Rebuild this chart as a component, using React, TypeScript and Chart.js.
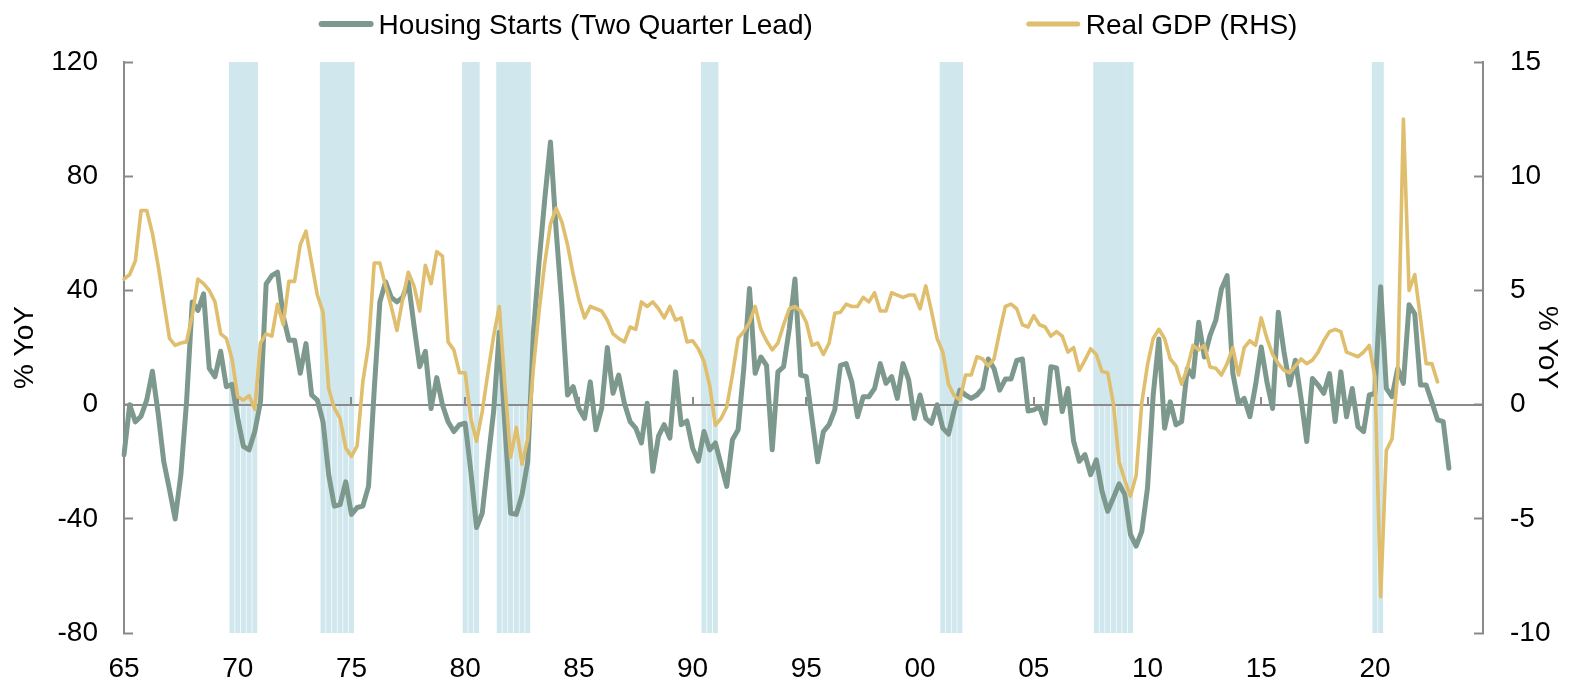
import { useEffect, useRef } from 'react';
import { Chart, registerables } from 'chart.js';

Chart.register(...registerables);

// ---------- data ----------
const FIRST_YEAR = 1965;
const LAST_YEAR = 2024;

// Housing starts, % YoY, plotted with a two-quarter lead (from 1965Q1)
const HOUSING_STARTS = [
  -17.5, 0, -6, -4, 1.7, 11.7, -3, -20, -29.7, -40,
  -24.5, 1, 36, 33, 38.8, 12.7, 9.8, 18.7, 6.3, 7.1,
  -4.7, -14.6, -15.8, -9.4, 1, 42.3, 45.2, 46.4, 31, 22.6,
  22.6, 11, 21.4, 3.4, 1.6, -6, -24.5, -35.5, -35, -27,
  -38.4, -36, -35.5, -28.6, 5, 36, 43, 37.6, 36, 37.6,
  43, 27.8, 13.3, 18.7, -1.3, 9.5, 0, -6, -9.4, -7,
  -6.5, -23.4, -43, -38, -20, -2.4, 25.4, -8, -38, -38.4,
  -31.5, -20, 25.4, 50, 72, 92, 61, 35, 3.4, 6.3,
  -1.3, -4.8, 8, -8.8, -1.3, 20, 4, 10.4, 0.5, -5.9,
  -8.2, -13.4, 0.5, -23.3, -11, -7, -11.7, 11.5, -7, -5.7,
  -15.2, -19.8, -9.4, -15.8, -13.4, -21, -28.6, -12.3, -8.8, 12.7,
  40.7, 11, 16.7, 13.8, -15.8, 11.5, 13.3, 26.6, 44, 10.4,
  9.8, -5, -20, -9.4, -7, -1.8, 13.8, 14.4, 8, -4.2,
  2.8, 2.8, 5.7, 14.4, 7.5, 9.8, 2.2, 14.4, 8.6, -4.8,
  3.4, -4.8, -6.5, 0, -8.2, -10.3, -1.8, 5.1, 3.4, 2.2,
  3.4, 5.7, 16, 12.7, 5.1, 9, 9, 15.5, 16, -2.2,
  -1.8, -0.7, -6.5, 13.3, 12.9, -2.4, 5.7, -12.8, -19.8, -17.5,
  -24.5, -19.3, -30.3, -37.3, -32.6, -27.7, -31.4, -45.4, -49.5, -44.3,
  -29.1, 3.4, 23, -8.2, 1, -7, -5.9, 12.7, 9.8, 28.9,
  16.7, 24.3, 29.5, 40.5, 45.2, 11, 0.5, 2.2, -4.2, 6.9,
  20.2, 8, -1.3, 32.4, 18.5, 6.9, 15.6, 2.2, -12.9, 9.2,
  6.9, 4, 10.9, -5.9, 11.5, -4.2, 5.7, -7.7, -9.4, 3.4,
  4, 41.3, 5.7, 2.8, 12.7, 7.5, 35, 31.8, 6.9, 6.9,
  1, -5.3, -5.9, -22.2,
];

// Real GDP, % YoY (RHS), from 1965Q1
const REAL_GDP = [
  5.5, 5.7, 6.3, 8.5, 8.5, 7.5, 6.1, 4.5, 2.9, 2.6,
  2.7, 2.75, 3.9, 5.5, 5.3, 5.0, 4.5, 3.1, 2.9, 2.0,
  0.35, 0.2, 0.4, -0.2, 2.7, 3.1, 3.0, 4.4, 3.5, 5.4,
  5.4, 7.0, 7.6, 6.2, 4.8, 4.05, 0.7, -0.15, -0.6, -1.9,
  -2.26, -1.8, 1.0, 2.6, 6.2, 6.2, 5.2, 4.3, 3.25, 4.6,
  5.8, 5.2, 4.1, 6.1, 5.3, 6.7, 6.5, 2.75, 2.4, 1.4,
  1.4, -0.6, -1.6, -0.3, 1.4, 3.0, 4.3, 0.8, -2.3, -1.0,
  -2.6, -1.5, 1.6, 4.1, 6.2, 7.9, 8.6, 8.0, 7.0, 5.7,
  4.6, 3.8, 4.3, 4.2, 4.1, 3.7, 3.1, 2.9, 2.75, 3.4,
  3.3, 4.5, 4.3, 4.5, 4.2, 3.8, 4.3, 3.7, 3.8, 2.75,
  2.8, 2.45, 1.9, 0.85, -0.9, -0.6, -0.1, 1.3, 2.9, 3.2,
  3.6, 4.3, 3.3, 2.8, 2.4, 2.7, 3.5, 4.2, 4.3, 4.1,
  3.6, 2.6, 2.7, 2.2, 2.7, 4.0, 4.05, 4.4, 4.3, 4.3,
  4.7, 4.5, 4.9, 4.1, 4.1, 4.9, 4.8, 4.7, 4.8, 4.8,
  4.2, 5.2, 4.1, 2.9, 2.3, 0.9, 0.4, 0.2, 1.3, 1.3,
  2.1, 2.0, 1.7, 2.0, 3.2, 4.3, 4.4, 4.2, 3.5, 3.4,
  3.9, 3.5, 3.4, 3.0, 3.2, 3.0, 2.3, 2.5, 1.5, 1.95,
  2.45, 2.2, 1.45, 1.4, 0.05, -2.5, -3.3, -4.0, -3.1, 0.1,
  1.75, 2.9, 3.3, 2.9, 2.0, 1.7, 0.9, 1.6, 2.6, 2.4,
  2.6, 1.65, 1.6, 1.3, 1.8, 2.5, 1.3, 2.5, 2.8, 2.6,
  3.8, 2.9, 2.2, 1.8, 1.5, 1.4, 1.7, 2.0, 1.8, 1.95,
  2.3, 2.8, 3.2, 3.3, 3.2, 2.3, 2.2, 2.1, 2.3, 2.6,
  1.2, -8.4, -2.0, -1.5, 1.4, 12.5, 5.0, 5.7, 3.8, 1.8,
  1.8, 1.0,
];

// NBER recessions (first and last quarter)
const RECESSIONS = [
  ['1969Q4', '1970Q4'],
  ['1973Q4', '1975Q1'],
  ['1980Q1', '1980Q3'],
  ['1981Q3', '1982Q4'],
  ['1990Q3', '1991Q1'],
  ['2001Q1', '2001Q4'],
  ['2007Q4', '2009Q2'],
  ['2020Q1', '2020Q2'],
];

const X_TICK_QUARTERS = ['1965Q1', '1970Q1', '1975Q1', '1980Q1', '1985Q1', '1990Q1', '1995Q1', '2000Q1', '2005Q1', '2010Q1', '2015Q1', '2020Q1'];
const X_TICK_LABELS = ['65', '70', '75', '80', '85', '90', '95', '00', '05', '10', '15', '20'];

const LEFT_TICKS = [-80, -40, 0, 40, 80, 120];
const RIGHT_TICKS = [-10, -5, 0, 5, 10, 15];

const HS_LABEL = 'Housing Starts (Two Quarter Lead)';
const GDP_LABEL = 'Real GDP (RHS)';
const AXIS_TITLE = '% YoY';

// ---------- styles ----------
const HS_COLOR = '#7d998e';
const GDP_COLOR = '#dfbe6d';
const REC_COLOR = '#d0e7ee';
const AXIS_GRAY = '#8a8a8a';
const FONT_FAMILY = '"Liberation Sans", Arial, Helvetica, sans-serif';
const FONT_SIZE = 28;

// ---------- derived tables ----------
const QUARTERS: string[] = [];
for (let y = FIRST_YEAR; y <= LAST_YEAR; y++) {
  for (let q = 1; q <= 4; q++) QUARTERS.push(`${y}Q${q}`);
}
const inRecession = (lab: string) =>
  RECESSIONS.some(([s, e]) => QUARTERS.indexOf(lab) >= QUARTERS.indexOf(s) && QUARTERS.indexOf(lab) <= QUARTERS.indexOf(e));

const recUpper = QUARTERS.map((q) => (inRecession(q) ? LEFT_TICKS[LEFT_TICKS.length - 1] : null));
const recLower = QUARTERS.map((q) => (inRecession(q) ? LEFT_TICKS[0] : null));
const hsData = QUARTERS.map((_, i) => (i < HOUSING_STARTS.length ? HOUSING_STARTS[i] : null));
const gdpData = QUARTERS.map((_, i) => (i < REAL_GDP.length ? REAL_GDP[i] : null));

// zero line + small x ticks sitting on it, drawn above the recession shading
const zeroLinePlugin = {
  id: 'zeroLine',
  beforeDatasetDraw(chart: any, args: any) {
    if (args.index !== 2) return;
    const { ctx, chartArea, scales } = chart;
    const y0 = Math.round(scales.y.getPixelForValue(0));
    ctx.save();
    ctx.strokeStyle = AXIS_GRAY;
    ctx.lineWidth = 2;
    ctx.beginPath();
    ctx.moveTo(chartArea.left, y0);
    ctx.lineTo(chartArea.right, y0);
    X_TICK_QUARTERS.forEach((q, k) => {
      if (k === 0) return;
      const x = Math.round(scales.x.getPixelForValue(QUARTERS.indexOf(q)));
      ctx.moveTo(x, y0);
      ctx.lineTo(x, y0 - 8);
    });
    ctx.stroke();
    ctx.restore();
  },
};

// legend with long line swatches
const legendPlugin = {
  id: 'lineLegend',
  afterDraw(chart: any) {
    const { ctx } = chart;
    const items = chart.data.datasets.filter((d: any) => d.type === 'line');
    ctx.save();
    ctx.font = `${FONT_SIZE}px ${FONT_FAMILY}`;
    const sw = 55;
    const gapText = 5;
    const gapItem = 213;
    const widths = items.map((d: any) => sw + gapText + ctx.measureText(d.label).width);
    const total = widths.reduce((a: number, b: number) => a + b, 0) + gapItem * (items.length - 1);
    let x = 808 - total / 2;
    const y = 24;
    items.forEach((d: any, i: number) => {
      ctx.strokeStyle = d.borderColor;
      ctx.lineWidth = d.legendWidth || 6;
      ctx.lineCap = 'round';
      ctx.beginPath();
      ctx.moveTo(x + 3, y);
      ctx.lineTo(x + sw - 3, y);
      ctx.stroke();
      ctx.fillStyle = '#000';
      ctx.textBaseline = 'alphabetic';
      ctx.textAlign = 'left';
      ctx.fillText(d.label, x + sw + gapText, y + 9.5);
      x += widths[i] + gapItem;
    });
    ctx.restore();
  },
};

export default function App() {
  const canvasRef = useRef<HTMLCanvasElement | null>(null);

  useEffect(() => {
    if (!canvasRef.current) return;
    Chart.defaults.font.family = FONT_FAMILY;
    Chart.defaults.color = '#000';

    const chart = new Chart(canvasRef.current, {
      type: 'bar',
      data: {
        labels: QUARTERS,
        datasets: [
          {
            type: 'bar',
            label: 'Recession',
            data: recUpper,
            backgroundColor: REC_COLOR,
            borderWidth: 0,
            grouped: false,
            categoryPercentage: 1,
            barPercentage: 1.1,
            yAxisID: 'y',
            order: 10,
          },
          {
            type: 'bar',
            label: 'Recession (lower)',
            data: recLower,
            backgroundColor: REC_COLOR,
            borderWidth: 0,
            grouped: false,
            categoryPercentage: 1,
            barPercentage: 0.88,
            yAxisID: 'y',
            order: 10,
          },
          {
            type: 'line',
            label: HS_LABEL,
            data: hsData,
            borderColor: HS_COLOR,
            backgroundColor: HS_COLOR,
            borderWidth: 5,
            legendWidth: 6,
            pointRadius: 0,
            tension: 0,
            borderJoinStyle: 'round',
            borderCapStyle: 'round',
            yAxisID: 'y',
            order: 2,
          },
          {
            type: 'line',
            label: GDP_LABEL,
            data: gdpData,
            borderColor: GDP_COLOR,
            backgroundColor: GDP_COLOR,
            borderWidth: 3.6,
            legendWidth: 5,
            pointRadius: 0,
            tension: 0,
            borderJoinStyle: 'round',
            borderCapStyle: 'round',
            yAxisID: 'y1',
            order: 1,
          },
        ],
      } as any,
      options: {
        animation: false,
        responsive: true,
        maintainAspectRatio: false,
        layout: { padding: { top: 62, left: 0, right: 0, bottom: 0 } },
        plugins: {
          legend: { display: false },
          tooltip: { enabled: false },
        },
        scales: {
          x: {
            type: 'category',
            offset: false,
            grid: { display: false, drawTicks: false },
            border: { display: false },
            ticks: {
              autoSkip: false,
              maxRotation: 0,
              minRotation: 0,
              padding: 19,
              font: { size: FONT_SIZE },
              callback: (_v: any, i: number) => {
                const k = X_TICK_QUARTERS.indexOf(QUARTERS[i]);
                return k >= 0 ? X_TICK_LABELS[k] : null;
              },
            },
            afterFit: (s: any) => {
              s.height = 50;
            },
          },
          y: {
            position: 'left',
            min: LEFT_TICKS[0],
            max: LEFT_TICKS[LEFT_TICKS.length - 1],
            ticks: { stepSize: 40, padding: 35, font: { size: FONT_SIZE } },
            grid: { drawOnChartArea: false, tickLength: -9, tickColor: AXIS_GRAY, tickWidth: 2 },
            border: { color: AXIS_GRAY, width: 2 },
            title: { display: true, text: AXIS_TITLE, font: { size: FONT_SIZE }, padding: { top: 8, bottom: 0 } },
            afterFit: (s: any) => {
              s.width = 124;
            },
          },
          y1: {
            position: 'right',
            min: RIGHT_TICKS[0],
            max: RIGHT_TICKS[RIGHT_TICKS.length - 1],
            ticks: { stepSize: 5, padding: 36, font: { size: FONT_SIZE } },
            grid: { drawOnChartArea: false, tickLength: -9, tickColor: AXIS_GRAY, tickWidth: 2 },
            border: { color: AXIS_GRAY, width: 2 },
            title: { display: true, text: AXIS_TITLE, font: { size: FONT_SIZE }, padding: { top: 27, bottom: 0 } },
            afterFit: (s: any) => {
              s.width = 108;
            },
          },
        },
      } as any,
      plugins: [zeroLinePlugin, legendPlugin],
    });

    return () => chart.destroy();
  }, []);

  return (
    <div style={{ position: 'fixed', left: 0, top: 0, width: 1591, height: 686, background: '#fff' }}>
      <canvas ref={canvasRef} />
    </div>
  );
}
